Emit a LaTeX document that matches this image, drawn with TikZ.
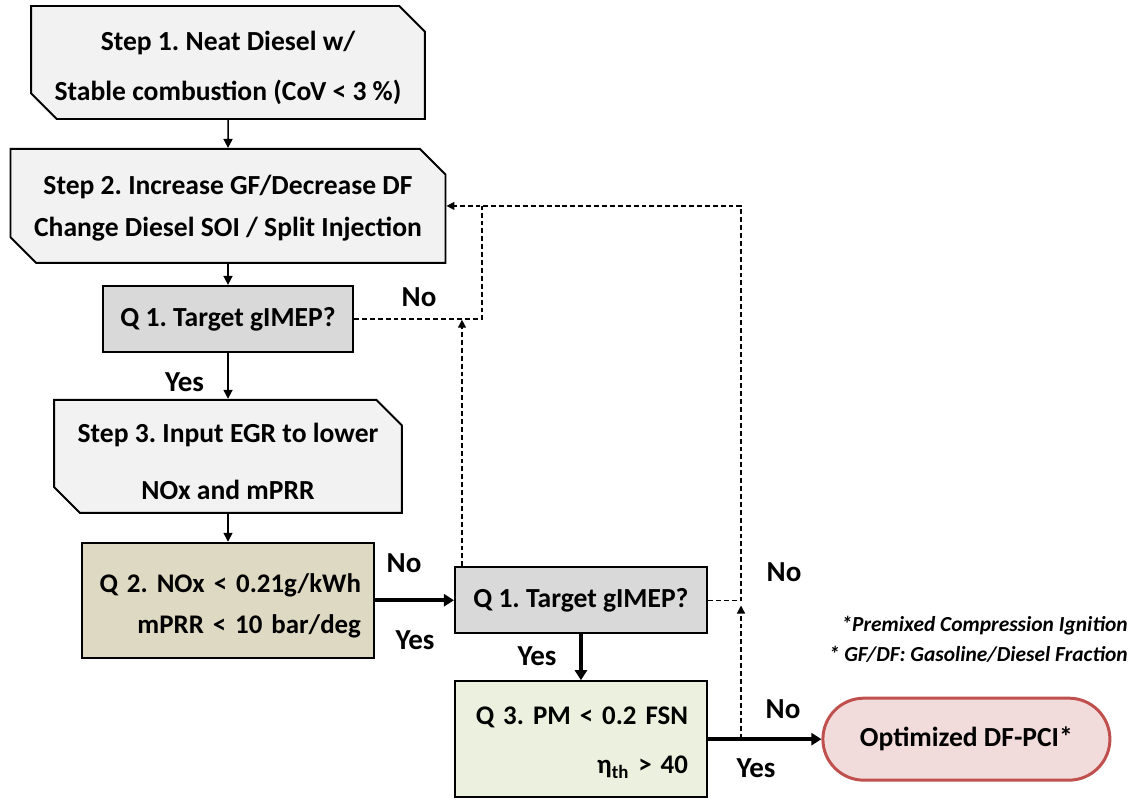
\documentclass[tikz,border=0pt]{standalone}
\usepackage{fontspec}
\setmainfont{Carlito}
\frenchspacing
\usetikzlibrary{arrows.meta,positioning,shapes.misc,calc}
\definecolor{StepGray}{HTML}{F2F2F2}
\definecolor{AskGray}{HTML}{D9D9D9}
\definecolor{AskTan}{HTML}{DDD9C3}
\definecolor{AskGreen}{HTML}{EBF1DE}
\definecolor{EndRed}{HTML}{C0504D}
\definecolor{EndPink}{HTML}{F2DCDB}
\newcommand{\toppad}[1]{\rule{0pt}{#1}}
\tikzset{
  stepbox/.style={chamfered rectangle, chamfered rectangle corners={north east,south west}, chamfered rectangle xsep=4mm, draw=black, fill=StepGray, line width=1.1pt, align=center, inner sep=2pt},
  askbox/.style={rectangle, draw=black, fill=AskGray, line width=1.1pt, align=center, minimum width=50.4mm},
  endbox/.style={rounded corners=8.2mm, draw=EndRed, fill=EndPink, line width=1.7pt, align=center, minimum width=57.4mm, minimum height=16.4mm},
  arrow/.style={-{Triangle[length=1.8mm,width=1.8mm]}, line width=0.9pt},
  bus/.style={-{Triangle[length=2mm,width=2.4mm]}, line width=2pt},
  backline/.style={-{Triangle[length=1.6mm,width=1.6mm]}, line width=0.75pt, dash pattern=on 2.8pt off 1.7pt},
  lbl/.style={font=\bfseries\fontsize{16.5}{19}\selectfont},
  asktext/.style={font=\bfseries\fontsize{15.3}{18.4}\selectfont},
  remark/.style={anchor=east, inner sep=0pt, font=\bfseries\itshape\fontsize{12.2}{14}\selectfont}
}
\begin{document}
\begin{tikzpicture}[font=\bfseries\fontsize{15.7}{18.8}\selectfont]
    \useasboundingbox (0,0) rectangle (22.7,-16);
    \node[stepbox, minimum width=75.6mm, minimum height=22.6mm] (s1) at (4.56,-1.25) {\toppad{17pt}Step 1. Neat Diesel w/\\[9.6pt]Stable combustion (CoV < 3 \%)};
    \node[stepbox, below=5.6mm of s1, minimum width=87mm, minimum height=22.8mm] (s2) {\toppad{13.5pt}Step 2. Increase GF/Decrease DF\\[5.1pt]Change Diesel SOI / Split Injection};
    \node[askbox, below=4.2mm of s2, minimum width=50mm, minimum height=13.2mm] (q1a) {Q 1. Target gIMEP?};
    \node[stepbox, below=9.2mm of q1a, minimum width=66.8mm, minimum height=22.6mm] (s3) {\toppad{17pt}Step 3. Input EGR to lower\\[13.6pt]NOx and mPRR};
    \node[askbox, asktext, fill=AskTan, below=5.6mm of s3, minimum height=23mm, text width=53.2mm, inner xsep=2.6mm, align=right] (q2) {\toppad{17pt}Q 2. NOx < 0.21g/kWh\\[5.3pt]mPRR < 10 bar/deg};
    \node[askbox, right=15.8mm of q2, minimum height=13.2mm] (q1b) {Q 1. Target gIMEP?};
    \node[askbox, asktext, fill=AskGreen, below=9.2mm of q1b, minimum height=23.2mm, text width=42.8mm, inner xsep=2.4mm, align=right] (q3) {\toppad{14pt}Q 3. PM < 0.2 FSN\\[9.5pt]η\textsubscript{th} > 40};
    \node[endbox, right=22.7mm of q3] (opt) {Optimized DF-PCI*};

    \draw[arrow] (s1) -- (s2);
    \draw[arrow] (s2) -- (q1a);
    \draw[arrow] (q1a) -- (s3);
    \draw[arrow] (s3) -- (q2);
    \draw[bus] (q2) -- (q1b);
    \draw[bus] (q1b) -- (q3);
    \draw[bus] (q3) -- (opt);

    % dashed return paths
    \coordinate (jn) at (9.64,0 |- s2.east);
    \coordinate (rt) at (14.82,0 |- s2.east);
    \coordinate (rb) at (rt |- q3.east);
    \coordinate (ua) at ([xshift=1.6mm]q1b.north west);
    \draw[backline, -] (q1a.east) -| (jn);
    \draw[backline] (q1b.east) -| (rt) -- (s2.east);
    \draw[backline, shorten >=0.5pt] (ua) -- (ua |- q1a.east);
    \draw[backline, shorten >=3pt] (rb) -- (rb |- q1b.east);

    \node[lbl] (no1) at (8.38,-5.95) {No};
    \node[lbl] (yes1) at (3.69,-7.65) {Yes};
    \node[lbl] (no2) at (8.08,-11.26) {No};
    \node[lbl] (yes2) at (8.3,-12.8) {Yes};
    \node[lbl] (yes3) at (10.74,-13.12) {Yes};
    \node[lbl] (no3) at (15.68,-11.44) {No};
    \node[lbl] (no4) at (15.66,-14.18) {No};
    \node[lbl] (yes4) at (15.12,-15.36) {Yes};

    \node[remark] (fn1) at (22.56,-12.52) {*Premixed Compression Ignition};
    \node[remark] (fn2) at (22.56,-13.08) {* GF/DF: Gasoline/Diesel Fraction};
  \end{tikzpicture}
\end{document}
